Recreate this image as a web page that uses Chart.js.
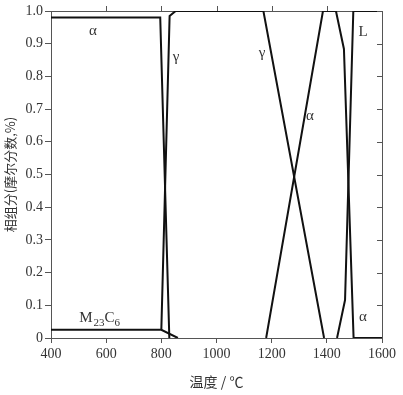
<!DOCTYPE html>
<html>
<head>
<meta charset="utf-8">
<script src="https://cdn.jsdelivr.net/npm/chart.js@4/dist/chart.umd.min.js"></script>
<style>
  html, body { margin: 0; padding: 0; background: #fff; }
  #wrap { width: 403px; height: 395px; }
</style>
</head>
<body>
<div id="wrap"><canvas id="phaseChart"></canvas></div>
<script>
// Phase fractions vs temperature
const alpha1Temp = [400, 796, 829];
const alpha1Frac = [0.98, 0.98, 0];
const gamma1Temp = [800, 830, 852, 1170, 1390];
const gamma1Frac = [0.025, 0.985, 1.0, 1.0, 0];
const carbideTemp = [400, 800, 860];
const carbideFrac = [0.025, 0.025, 0];
const alpha2Temp = [1180, 1386, 1433, 1462, 1497, 1600];
const alpha2Frac = [0, 1.0, 1.0, 0.884, 0, 0];
const liquidTemp = [1437, 1466, 1496, 1600];
const liquidFrac = [0, 0.116, 1.0, 1.0];

const xTicks = [400, 600, 800, 1000, 1200, 1400, 1600];
const yTickLabels = ['0', '0.1', '0.2', '0.3', '0.4', '0.5', '0.6', '0.7', '0.8', '0.9', '1.0'];

// phase labels: [text, temperature, fraction]
const phaseLabels = [
  ['α', 552, 0.94],
  ['γ', 853, 0.86],
  ['γ', 1165, 0.87],
  ['α', 1339, 0.68],
  ['L', 1531, 0.935],
  ['α', 1531, 0.065]
];

function toPoints(xs, ys) {
  return xs.map((x, i) => ({ x: x, y: ys[i] }));
}

const serif = "'Liberation Serif', 'DejaVu Serif', serif";
const axisColor = '#555';

// extra inward ticks on top and right, plus the phase names
const decorations = {
  id: 'decorations',
  afterDatasetsDraw(chart) {
    const { ctx, chartArea, scales } = chart;
    const x = scales.x, y = scales.y;
    ctx.save();
    ctx.strokeStyle = axisColor;
    ctx.lineWidth = 1;
    ctx.beginPath();
    xTicks.slice(1, -1).forEach(t => {
      const px = Math.round(x.getPixelForValue(t)) + 0.5;
      ctx.moveTo(px, chartArea.top - 5);
      ctx.lineTo(px, chartArea.top);
    });
    yTickLabels.forEach((lab, i) => {
      const py = Math.round(y.getPixelForValue(i / 10)) + 0.5;
      ctx.moveTo(chartArea.right - 5, py);
      ctx.lineTo(chartArea.right, py);
    });
    ctx.stroke();

    ctx.fillStyle = '#333';
    ctx.textAlign = 'center';
    ctx.textBaseline = 'middle';
    ctx.font = '15px ' + serif;
    phaseLabels.forEach(([txt, t, f]) => {
      ctx.fillText(txt, x.getPixelForValue(t), y.getPixelForValue(f));
    });

    // M23C6 with subscripts
    let px = x.getPixelForValue(502);
    const py = y.getPixelForValue(0.06);
    ctx.textAlign = 'left';
    const parts = [['M', 15, 0], ['23', 11, 5], ['C', 15, 0], ['6', 11, 5]];
    parts.forEach(([s, size, dy]) => {
      ctx.font = size + 'px ' + serif;
      ctx.fillText(s, px, py + dy);
      px += ctx.measureText(s).width + (s === 'M' ? 1 : 0);
    });
    ctx.restore();
  }
};

function lineSet(xs, ys) {
  return {
    data: toPoints(xs, ys),
    borderColor: '#111',
    borderWidth: 2,
    pointRadius: 0,
    fill: false,
    tension: 0
  };
}

new Chart(document.getElementById('phaseChart'), {
  type: 'line',
  data: {
    datasets: [
      lineSet(alpha1Temp, alpha1Frac),
      lineSet(gamma1Temp, gamma1Frac),
      lineSet(carbideTemp, carbideFrac),
      lineSet(alpha2Temp, alpha2Frac),
      lineSet(liquidTemp, liquidFrac)
    ]
  },
  options: {
    responsive: true,
    maintainAspectRatio: false,
    animation: false,
    layout: { padding: 0 },
    plugins: {
      legend: { display: false },
      tooltip: { enabled: false }
    },
    scales: {
      x: {
        type: 'linear',
        position: 'bottom',
        min: 400,
        max: 1600,
        afterBuildTicks: s => { s.ticks = xTicks.map(v => ({ value: v })); },
        ticks: {
          font: { family: serif, size: 14 },
          color: '#333',
          padding: 3,
          maxRotation: 0,
          callback: v => String(v)
        },
        grid: { drawOnChartArea: false, tickLength: 5, color: axisColor },
        border: { color: axisColor, width: 1 },
        title: {
          display: true,
          text: '温度 / ℃',
          font: { family: 'Noto Sans CJK SC', size: 14 },
          color: '#333',
          padding: { top: 0, bottom: 5 }
        },
        afterFit: s => { s.height = 57; }
      },
      y: {
        min: 0,
        max: 1,
        afterBuildTicks: s => { s.ticks = yTickLabels.map((l, i) => ({ value: i / 10 })); },
        ticks: {
          font: { family: serif, size: 14 },
          color: '#333',
          padding: 2,
          callback: (v, i) => yTickLabels[i]
        },
        grid: { drawOnChartArea: false, tickLength: 6, color: axisColor },
        border: { color: axisColor, width: 1 },
        title: {
          display: true,
          text: '相组分(摩尔分数,%)',
          font: { family: 'Noto Sans CJK SC', size: 13 },
          color: '#333',
          padding: { top: 2, bottom: 0 }
        },
        afterFit: s => { s.width = 51; }
      },
      x2: {
        type: 'linear',
        position: 'top',
        min: 400,
        max: 1600,
        ticks: { display: false },
        grid: { drawOnChartArea: false, drawTicks: false },
        border: { color: axisColor, width: 1 },
        afterFit: s => { s.height = 11; }
      },
      y2: {
        position: 'right',
        min: 0,
        max: 1,
        ticks: { display: false },
        grid: { drawOnChartArea: false, drawTicks: false },
        border: { color: axisColor, width: 1 },
        afterFit: s => { s.width = 21; }
      }
    }
  },
  plugins: [decorations]
});
</script>
</body>
</html>
